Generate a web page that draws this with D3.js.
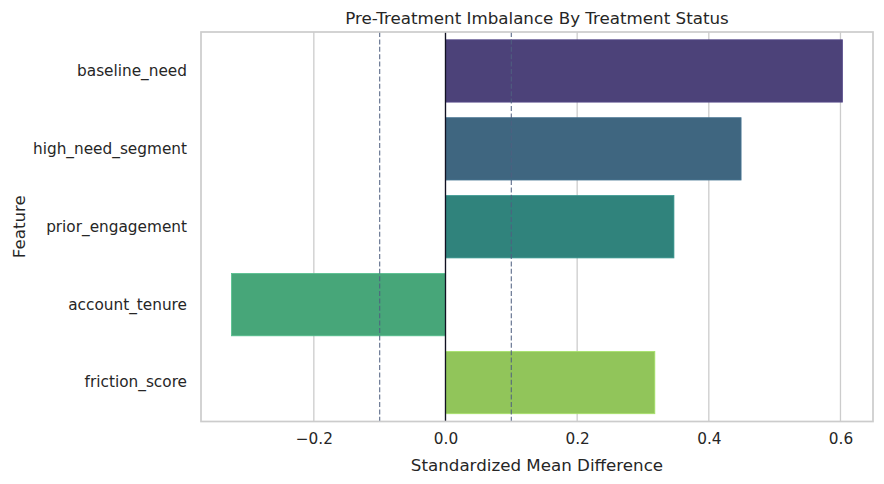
<!DOCTYPE html>
<html>
<head>
<meta charset="utf-8">
<script src="https://cdn.jsdelivr.net/npm/d3@7"></script>
<style>
  body { margin: 0; background: #fff; }
  text { font-family: "DejaVu Sans", sans-serif; fill: #262626; }
</style>
</head>
<body>
<script>
// feature names, top to bottom
const features = ["baseline_need", "high_need_segment", "prior_engagement", "account_tenure", "friction_score"];
const smd = [0.603, 0.449, 0.347, -0.325, 0.318];
const barColors = ["#4c4279", "#3f6680", "#30837c", "#47a679", "#91c55a"];
const xTicks = [-0.2, 0.0, 0.2, 0.4, 0.6];
const thresholds = [-0.1, 0.1];

const W = 884, H = 484;
const margin = {top: 32, right: 11, bottom: 62.5, left: 201};

const svg = d3.select("body").append("svg")
    .attr("width", W)
    .attr("height", H);

// matplotlib style 5% margins on the value axis
const lo = Math.min(0, d3.min(smd)), hi = Math.max(0, d3.max(smd));
const pad = (hi - lo) * 0.05;

const x = d3.scaleLinear()
    .domain([lo - pad, hi + pad])
    .range([margin.left, W - margin.right]);

const y = d3.scaleBand()
    .domain(features)
    .range([margin.top, H - margin.bottom])
    .paddingInner(0.2)
    .paddingOuter(0.1);

// grid
svg.append("g")
  .selectAll("line")
  .data(xTicks)
  .enter().append("line")
    .attr("x1", d => x(d)).attr("x2", d => x(d))
    .attr("y1", margin.top).attr("y2", H - margin.bottom)
    .attr("stroke", "#cccccc")
    .attr("stroke-width", 1.3);

// bars
svg.append("g")
  .selectAll("rect")
  .data(features)
  .enter().append("rect")
    .attr("x", (d, i) => x(Math.min(0, smd[i])))
    .attr("width", (d, i) => Math.abs(x(smd[i]) - x(0)))
    .attr("y", d => y(d))
    .attr("height", y.bandwidth())
    .attr("fill", (d, i) => barColors[i])
    .attr("stroke", (d, i) => d3.color(barColors[i]).brighter(0.4))
    .attr("stroke-width", 0.8);

// threshold lines
svg.append("g")
  .selectAll("line")
  .data(thresholds)
  .enter().append("line")
    .attr("x1", d => x(d)).attr("x2", d => x(d))
    .attr("y1", margin.top).attr("y2", H - margin.bottom)
    .attr("stroke", "#4f5f80")
    .attr("stroke-opacity", 0.85)
    .attr("stroke-width", 1.2)
    .attr("stroke-dasharray", "5,2.4");

// zero line
svg.append("line")
    .attr("x1", x(0)).attr("x2", x(0))
    .attr("y1", margin.top).attr("y2", H - margin.bottom)
    .attr("stroke", "#111122")
    .attr("stroke-width", 1.3);

// frame
svg.append("rect")
    .attr("x", margin.left)
    .attr("y", margin.top)
    .attr("width", W - margin.left - margin.right)
    .attr("height", H - margin.top - margin.bottom)
    .attr("fill", "none")
    .attr("stroke", "#cccccc")
    .attr("stroke-width", 1.7);

// x axis
const xAxis = svg.append("g")
    .attr("transform", "translate(0," + (H - margin.bottom) + ")")
    .call(d3.axisBottom(x)
      .tickValues(xTicks)
      .tickSize(0)
      .tickPadding(12)
      .tickFormat(d => d3.format(".1f")(d).replace("-", "\u2212")));
xAxis.select(".domain").remove();
xAxis.selectAll("text").attr("font-size", 15.3).style("font-family", "DejaVu Sans");

// y axis
const yAxis = svg.append("g")
    .attr("transform", "translate(" + margin.left + ",0)")
    .call(d3.axisLeft(y).tickSize(0).tickPadding(14));
yAxis.select(".domain").remove();
yAxis.selectAll("text").attr("font-size", 15.3).style("font-family", "DejaVu Sans");

// labels
svg.append("text")
    .attr("x", (margin.left + W - margin.right) / 2)
    .attr("y", 471)
    .attr("text-anchor", "middle")
    .attr("font-size", 16.7)
    .text("Standardized Mean Difference");

svg.append("text")
    .attr("transform", "translate(25," + ((margin.top + H - margin.bottom) / 2) + ") rotate(-90)")
    .attr("text-anchor", "middle")
    .attr("font-size", 16.7)
    .text("Feature");

svg.append("text")
    .attr("x", (margin.left + W - margin.right) / 2)
    .attr("y", 24)
    .attr("text-anchor", "middle")
    .attr("font-size", 16.7)
    .text("Pre-Treatment Imbalance By Treatment Status");
</script>
</body>
</html>
